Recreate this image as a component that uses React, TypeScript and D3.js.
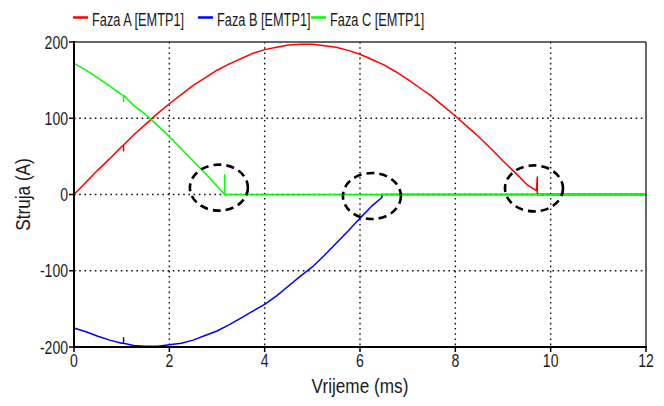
import React from "react";
import * as d3 from "d3";

// Phase currents (A) versus time (ms) for the EMTP1 interruption run
const phaseATime = [0, 0.25, 0.5, 0.75, 1.0, 1.04, 1.04, 1.04, 1.25, 1.5, 1.75, 2.0, 2.25, 2.5, 2.75, 3.0, 3.25, 3.5, 3.75, 4.0, 4.25, 4.5, 4.75, 5.0, 5.25, 5.5, 5.75, 6.0, 6.25, 6.5, 6.75, 7.0, 7.25, 7.5, 7.75, 8.0, 8.25, 8.5, 8.75, 9.0, 9.25, 9.5, 9.7, 9.72, 9.72, 12];
const phaseAValues = [0, 16, 32, 47, 63, 65, 57, 65, 78, 92, 106, 119, 131, 143, 153, 163, 171, 178, 185, 190, 193, 196, 197, 197, 195, 193, 189, 184, 177, 170, 161, 151, 140, 129, 116, 103, 89, 75, 60, 44, 29, 13, 5, 23, 0, 0];

const phaseBTime = [0, 0.25, 0.5, 0.75, 1.0, 1.04, 1.04, 1.04, 1.25, 1.5, 1.75, 2.0, 2.25, 2.5, 2.75, 3.0, 3.25, 3.5, 3.75, 4.0, 4.25, 4.5, 4.75, 5.0, 5.25, 5.5, 5.75, 6.0, 6.25, 6.46, 6.46, 12];
const phaseBValues = [-175, -180, -186, -191, -195, -195, -188, -195, -198, -199, -199, -197, -195, -191, -185, -179, -171, -162, -153, -144, -133, -120, -107, -95, -80, -64, -48, -31, -15, -4, 0, 0];

const phaseCTime = [0, 0.25, 0.5, 0.75, 1.0, 1.04, 1.04, 1.04, 1.25, 1.5, 1.75, 2.0, 2.25, 2.5, 2.75, 3.0, 3.16, 3.16, 3.16, 12];
const phaseCValues = [172, 163, 153, 142, 131, 130, 122, 130, 117, 105, 91, 76, 60, 44, 28, 11, 0, 26, 0, 0];

const seriesNames = ["Faza A [EMTP1]", "Faza B [EMTP1]", "Faza C [EMTP1]"];
const seriesColors = ["#ff0000", "#0000ff", "#00ff00"];

const xTicks = [0, 2, 4, 6, 8, 10, 12];
const yTicks = [-200, -100, 0, 100, 200];
const xGrid = [2, 4, 6, 8, 10];
const yGrid = [-100, 0, 100];

// Highlighted switching instants: centre in (ms, A)
const markTimes = [3.04, 6.25, 9.65];
const markCurrents = [9, -2, 8];

const W = 664;
const H = 406;
const left = 74;
const right = 646;
const top = 42;
const bottom = 347;

const font = "'Liberation Sans', Arial, sans-serif";
const textColor = "#1a1a1a";

export default function App() {
  const x = d3.scaleLinear().domain([0, 12]).range([left, right]);
  const y = d3.scaleLinear().domain([-200, 200]).range([bottom, top]);

  const line = d3
    .line<[number, number]>()
    .x((d) => x(d[0]))
    .y((d) => y(d[1]))
    .curve(d3.curveLinear);

  const series = [
    d3.zip(phaseATime, phaseAValues) as [number, number][],
    d3.zip(phaseBTime, phaseBValues) as [number, number][],
    d3.zip(phaseCTime, phaseCValues) as [number, number][],
  ];

  const legendX = [73, 198, 311];

  return (
    <svg
      width={W}
      height={H}
      viewBox={`0 0 ${W} ${H}`}
      style={{ position: "absolute", left: 0, top: 0, background: "#fff" }}
    >
      <rect x={0} y={0} width={W} height={H} fill="#fff" />

      {/* dotted grid */}
      <g stroke="#111" strokeWidth={1.4} strokeDasharray="1.6,3.6">
        {xGrid.map((t) => (
          <line key={`gx${t}`} x1={x(t)} x2={x(t)} y1={top} y2={bottom} />
        ))}
        {yGrid.map((v) => (
          <line key={`gy${v}`} x1={left} x2={right} y1={y(v)} y2={y(v)} />
        ))}
      </g>

      {/* curves */}
      <g fill="none" strokeWidth={1.5} strokeLinejoin="round">
        {series.map((s, i) => (
          <path key={i} d={line(s) ?? ""} stroke={seriesColors[i]} />
        ))}
      </g>

      {/* frame and axes */}
      <line x1={left} x2={right} y1={top} y2={top} stroke="#333" strokeWidth={1.5} />
      <line x1={right} x2={right} y1={top} y2={bottom} stroke="#333" strokeWidth={1.5} />
      <line x1={left} x2={left} y1={top - 1} y2={bottom + 1} stroke="#000" strokeWidth={2} />
      <line x1={left - 1} x2={right + 1} y1={bottom} y2={bottom} stroke="#000" strokeWidth={2} />

      {/* ticks */}
      <g stroke="#000" strokeWidth={1.5}>
        {yTicks.map((v) => (
          <line key={`ty${v}`} x1={left - 5} x2={left} y1={y(v)} y2={y(v)} />
        ))}
        {xTicks.map((t) => (
          <line key={`tx${t}`} x1={x(t)} x2={x(t)} y1={bottom} y2={bottom + 5} />
        ))}
      </g>

      <g fontFamily={font} fontSize={18} fill={textColor}>
        {yTicks.map((v) => (
          <text
            key={`ly${v}`}
            textAnchor="end"
            transform={`translate(${left - 6},${y(v) + 6.5}) scale(0.78,1)`}
          >
            {v}
          </text>
        ))}
        {xTicks.map((t) => (
          <text
            key={`lx${t}`}
            textAnchor="middle"
            transform={`translate(${x(t)},${bottom + 20}) scale(0.78,1)`}
          >
            {t}
          </text>
        ))}
      </g>

      {/* axis titles */}
      <text
        textAnchor="middle"
        fontFamily={font}
        fontSize={20}
        fill={textColor}
        transform={`translate(${(left + right) / 2},393) scale(0.86,1)`}
      >
        Vrijeme (ms)
      </text>
      <text
        transform={`translate(30,${(top + bottom) / 2}) rotate(-90) scale(0.86,1)`}
        textAnchor="middle"
        fontFamily={font}
        fontSize={20}
        fill={textColor}
      >
        Struja (A)
      </text>

      {/* legend */}
      <g fontFamily={font} fontSize={18.5} fill={textColor}>
        {seriesNames.map((name, i) => (
          <g key={name}>
            <line
              x1={legendX[i]}
              x2={legendX[i] + 15}
              y1={17.5}
              y2={17.5}
              stroke={seriesColors[i]}
              strokeWidth={2.5}
            />
            <text transform={`translate(${legendX[i] + 19},25.5) scale(0.69,1)`}>
              {name}
            </text>
          </g>
        ))}
      </g>

      {/* dashed ellipses around interruption instants */}
      <g fill="none" stroke="#000" strokeWidth={2.6} strokeDasharray="8,5">
        {markTimes.map((t, i) => (
          <ellipse key={`m${i}`} cx={x(t)} cy={y(markCurrents[i])} rx={29} ry={23} />
        ))}
      </g>
    </svg>
  );
}
